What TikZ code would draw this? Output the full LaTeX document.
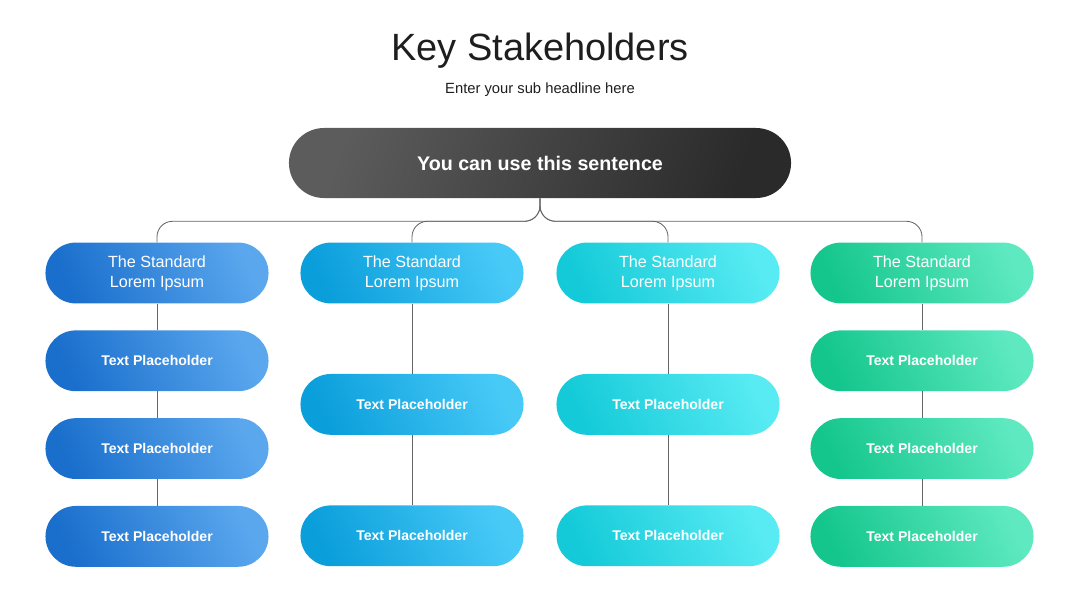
\documentclass[tikz,border=0pt]{standalone}
\usepackage{fontspec}
\setmainfont{Liberation Sans}
\usepackage{xcolor}
\usetikzlibrary{positioning,shapes.misc}

\definecolor{inkdark}{HTML}{1E1E1E}
\definecolor{toplight}{HTML}{5C5C5C}
\definecolor{topdark}{HTML}{2A2A2A}
\definecolor{blueA}{HTML}{1A6FCC}
\definecolor{blueB}{HTML}{5AA7EE}
\definecolor{skyA}{HTML}{0A9EDB}
\definecolor{skyB}{HTML}{48CAF7}
\definecolor{cyanA}{HTML}{14CAD8}
\definecolor{cyanB}{HTML}{58EBF3}
\definecolor{greenA}{HTML}{14C68C}
\definecolor{greenB}{HTML}{5EE9C0}
\definecolor{linegray}{HTML}{666666}

\begin{document}
\begin{tikzpicture}[
  x=0.025cm, y=-0.025cm,
  node distance=0.66cm,
  pill/.style={rounded rectangle,inner sep=0pt,minimum width=5.575cm,
    minimum height=1.52cm,text=white,align=center},
  head/.style={pill,font=\fontsize{11.5}{14.2}\selectfont},
  item/.style={pill,font=\fontsize{10}{12}\selectfont\bfseries},
  shadeblue/.style={left color=blueA,right color=blueB,shading angle=115},
  shadesky/.style={left color=skyA,right color=skyB,shading angle=115},
  shadecyan/.style={left color=cyanA,right color=cyanB,shading angle=115},
  shadegreen/.style={left color=greenA,right color=greenB,shading angle=115},
  link/.style={draw=linegray,line width=0.6pt},
  branch/.style={link,rounded corners=11pt}
]
\useasboundingbox (0,0) rectangle (1080,608);

\node[text=inkdark,font=\fontsize{27}{32}\selectfont] (title) at (540,51) {Key Stakeholders};
\node[text=inkdark,font=\fontsize{10.5}{12}\selectfont] (subtitle) at (540,90) {Enter your sub headline here};

\node[rounded rectangle,inner sep=0pt,minimum width=12.55cm,minimum height=1.75cm,
  left color=toplight,right color=topdark,shading angle=70,text=white,
  font=\fontsize{14}{16}\selectfont\bfseries] (sentence) at (540,163) {You can use this sentence};

% column heads
\node[head,shadeblue] (headA) at (157,273) {The Standard\\Lorem Ipsum};
\node[head,shadesky] (headB) at (412,273) {The Standard\\Lorem Ipsum};
\node[head,shadecyan] (headC) at (668,273) {The Standard\\Lorem Ipsum};
\node[head,shadegreen] (headD) at (922,273) {The Standard\\Lorem Ipsum};

% first column
\node[item,shadeblue,below=of headA] (itemA1) {Text Placeholder};
\node[item,shadeblue,below=of itemA1] (itemA2) {Text Placeholder};
\node[item,shadeblue,below=of itemA2] (itemA3) {Text Placeholder};

% middle columns
\node[item,shadesky,below=1.75cm of headB] (itemB1) {Text Placeholder};
\node[item,shadesky,below=1.75cm of itemB1] (itemB2) {Text Placeholder};
\node[item,shadecyan,below=1.75cm of headC] (itemC1) {Text Placeholder};
\node[item,shadecyan,below=1.75cm of itemC1] (itemC2) {Text Placeholder};

% last column
\node[item,shadegreen,below=of headD] (itemD1) {Text Placeholder};
\node[item,shadegreen,below=of itemD1] (itemD2) {Text Placeholder};
\node[item,shadegreen,below=of itemD2] (itemD3) {Text Placeholder};

% connectors
\draw[branch] (sentence.south) -- ++(0,23) -| (headA.north);
\draw[branch] (sentence.south) -- ++(0,23) -| (headB.north);
\draw[branch] (sentence.south) -- ++(0,23) -| (headC.north);
\draw[branch] (sentence.south) -- ++(0,23) -| (headD.north);

\draw[link] (headA.south) -- (itemA1.north);
\draw[link] (itemA1.south) -- (itemA2.north);
\draw[link] (itemA2.south) -- (itemA3.north);
\draw[link] (headB.south) -- (itemB1.north);
\draw[link] (itemB1.south) -- (itemB2.north);
\draw[link] (headC.south) -- (itemC1.north);
\draw[link] (itemC1.south) -- (itemC2.north);
\draw[link] (headD.south) -- (itemD1.north);
\draw[link] (itemD1.south) -- (itemD2.north);
\draw[link] (itemD2.south) -- (itemD3.north);
\end{tikzpicture}
\end{document}
